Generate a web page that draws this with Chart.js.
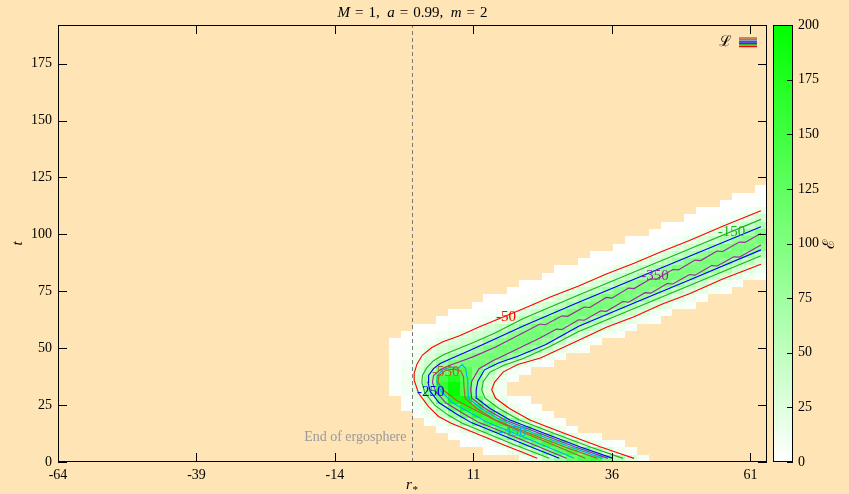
<!DOCTYPE html>
<html>
<head>
<meta charset="utf-8">
<script src="https://cdn.jsdelivr.net/npm/chart.js@4.4.1/dist/chart.umd.min.js"></script>
<style>
  html, body { margin: 0; padding: 0; background: #ffe4b5; }
</style>
</head>
<body>
<canvas id="chart" width="849" height="494"></canvas>
<script>
// axis ticks
const xTickValues = [-64, -39, -14, 11, 36, 61];
const yTickValues = [0, 25, 50, 75, 100, 125, 150, 175];
const cbTickValues = [0, 25, 50, 75, 100, 125, 150, 175, 200];

// energy density on a 60 x 60 grid (r* in [-64,64], t in [0,192]); one entry per t-row,
// rowStart = index of the first filled r*-column of that row
const rowStart = [39, 36, 34, 33, 32, 31, 30, 29, 29, 28, 28, 28, 28, 28, 28, 28, 28, 29, 30, 32,
  33, 35, 36, 38, 39, 41, 42, 44, 45, 47, 48, 50, 51, 53, 54, 56, 57, 59];
const energy = [
  [9, 22, 45, 77, 115, 138, 150, 100, 55, 26, 10],
  [2, 5, 14, 32, 60, 100, 130, 150, 112, 62, 33, 12, 4],
  [1, 3, 8, 22, 45, 88, 122, 152, 132, 78, 36, 16, 6, 2],
  [2, 5, 14, 34, 65, 108, 142, 155, 100, 52, 23, 9, 3],
  [3, 8, 22, 46, 88, 130, 158, 128, 66, 32, 13, 4],
  [4, 12, 32, 65, 110, 152, 155, 90, 45, 22, 8, 3],
  [5, 14, 38, 78, 125, 168, 150, 90, 38, 15, 5, 2],
  [3, 10, 25, 60, 120, 180, 170, 100, 42, 16, 5, 2],
  [5, 16, 45, 110, 185, 190, 120, 48, 18, 6, 2],
  [4, 10, 25, 100, 150, 200, 145, 75, 30, 11],
  [5, 12, 30, 80, 160, 195, 140, 72, 30, 11],
  [5, 12, 32, 75, 145, 175, 135, 80, 38, 14, 5],
  [4, 10, 28, 62, 108, 140, 135, 100, 55, 26, 10, 4],
  [3, 7, 20, 42, 78, 100, 112, 110, 98, 62, 38, 18, 7, 2],
  [2, 5, 13, 28, 48, 72, 88, 102, 108, 102, 78, 50, 32, 16, 6],
  [2, 4, 9, 22, 32, 43, 56, 78, 98, 110, 104, 86, 70, 40, 22, 10, 4],
  [1, 2, 4, 9, 21, 30, 38, 46, 72, 92, 106, 108, 96, 76, 44, 24, 11, 5],
  [1, 2, 4, 9, 16, 26, 35, 42, 66, 90, 104, 110, 100, 80, 46, 30, 20, 9, 4],
  [1, 1, 2, 3, 7, 17, 31, 44, 63, 86, 104, 110, 101, 79, 56, 38, 25, 13, 5],
  [1, 1, 2, 4, 11, 23, 36, 53, 74, 96, 108, 104, 88, 65, 46, 31, 20, 9, 4],
  [1, 1, 2, 3, 8, 17, 30, 43, 61, 84, 102, 108, 99, 77, 55, 37, 25, 12, 5],
  [1, 1, 2, 4, 10, 24, 37, 52, 72, 94, 107, 105, 90, 66, 45, 32, 21, 9, 4],
  [1, 1, 2, 3, 7, 16, 29, 44, 62, 85, 103, 107, 98, 78, 57, 38, 26, 13, 5],
  [1, 1, 2, 4, 11, 24, 35, 51, 73, 95, 106, 103, 88, 67, 46, 31, 20, 9, 4],
  [1, 1, 2, 3, 7, 17, 30, 42, 61, 84, 101, 106, 99, 77, 55, 38, 25, 12, 5],
  [1, 1, 2, 4, 10, 23, 36, 52, 72, 93, 105, 104, 89, 65, 45, 32, 20, 9, 4],
  [1, 1, 2, 3, 7, 17, 30, 43, 62, 84, 101, 105, 97, 76, 55, 37, 25, 13],
  [1, 1, 2, 4, 11, 24, 36, 51, 72, 94, 104, 102, 87, 65, 46, 31],
  [1, 1, 2, 3, 7, 16, 30, 43, 61, 83, 100, 104, 97, 77, 55],
  [1, 1, 2, 4, 10, 23, 35, 52, 72, 93, 104, 103, 88],
  [1, 1, 2, 3, 7, 17, 29, 42, 62, 84, 100, 104],
  [1, 1, 2, 4, 11, 24, 36, 51, 71, 93],
  [1, 1, 2, 3, 7, 17, 30, 43, 61],
  [1, 1, 2, 4, 10, 23, 35],
  [1, 1, 2, 3, 7, 16],
  [1, 1, 2, 4],
  [1, 1, 2],
  [1]
];

// contours of L, as [r*, t] points
const redOuter = [[22.5, 1.6], [19.5, 4.6], [16.5, 7.5], [13.5, 10.5], [10.5, 13.5], [7, 17], [4.7, 20], [2.9, 24.3],
  [1.1, 30.2], [0.3, 36], [0.3, 39], [0.8, 43], [1.8, 47], [3.5, 50.3], [5.5, 52.8], [8.5, 55.5], [12, 59.3],
  [20, 67.3], [25, 72.6], [30, 77.3], [35, 82.6], [40, 87.3], [45, 92.5], [50, 97.3], [56, 103.6], [62.9, 110.4]];
const greenOuter = [[24.7, 1.6], [18.5, 7.5], [12.5, 13.5], [9, 17], [6.5, 20.5], [4, 25], [2.2, 30.5], [1.7, 35],
  [1.8, 38], [2.6, 41.5], [3.8, 44.5], [5.5, 47], [8, 49.5], [11, 52.5], [15, 56.8], [20, 63], [30, 73.4],
  [40, 83.5], [50, 93.6], [62.9, 106.6]];
const blueOuter = [[26.5, 1.6], [20.5, 7.5], [14.5, 13.5], [10.7, 17.2], [8, 21], [4.8, 26], [3.2, 31], [2.8, 35],
  [2.9, 38], [3.8, 41], [5, 43.3], [7, 45.5], [10, 48.7], [14, 53], [20, 59.8], [30, 70.2], [40, 80.3],
  [50, 90.4], [62.9, 103.4]];
const purpleOuter = [[27.8, 1.6], [22, 7.5], [16, 13.5], [12, 17.3], [9, 21.5], [6, 26], [4.2, 31], [3.6, 35],
  [3.8, 38], [5, 40.5], [6.5, 42.3], [8.5, 44], [11, 46.3], [15, 50.5], [20, 56.8], [23, 60.6], [24, 60.3],
  [27, 64.2], [28, 64], [31, 68.1], [32, 67.9], [35, 72.3], [36, 72], [39, 76.4], [40, 76.2], [43, 80.5],
  [44, 80.3], [47, 84.6], [48, 84.4], [51, 88.7], [52, 88.5], [55, 92.7], [56, 92.5], [59, 96.6], [60, 96.5],
  [62.9, 100.4]];
const cyanLoop = [[29.2, 1.6], [23.5, 7.5], [17.5, 13.5], [13.5, 17.5], [10.5, 21.5], [7.2, 26], [5.2, 31],
  [4.4, 35], [4.5, 38], [5.5, 40.5], [7, 41.8], [8.2, 41.2], [9, 42.8], [9.6, 41], [9.8, 38], [10, 36],
  [10, 31.7], [10.1, 28], [12.4, 23.5], [15.9, 18.5], [22.1, 12.5], [28.5, 6.6], [34.4, 1.6]];
const brownLoop = [[31.2, 1.6], [25.5, 7.5], [20, 13], [16, 17], [12, 22], [8, 27], [5.6, 31.5], [4.6, 35],
  [4.8, 38], [6, 40.3], [7.5, 40.8], [8.7, 40], [9.2, 37.5], [9.3, 33], [9.5, 28], [11.6, 23.5], [15, 18.5],
  [21.2, 12.5], [27.5, 6.6], [33.4, 1.6]];
const redInner = [[40, 1.6], [37, 4.1], [34, 6.6], [30.7, 9.6], [27.5, 12.5], [24.3, 15.5], [21.2, 18.5],
  [17.5, 23.5], [15, 28], [14.3, 31.7], [14.8, 35], [16.4, 39.6], [19, 42.8], [23.1, 45.7], [30, 53.5],
  [35, 59.2], [40, 63.8], [45, 69.3], [50, 73.9], [56, 80.4], [62.9, 86.9]];
const greenInner = [[38, 1.6], [32.1, 6.6], [25.6, 12.5], [19.3, 18.5], [15.6, 23.5], [13.1, 28], [12.5, 31.7],
  [12.8, 35.5], [14, 39.5], [16.5, 42.5], [20, 45.5], [25, 51], [30, 57.3], [40, 67.4], [50, 77.5], [62.9, 90.6]];
const blueInner = [[36.2, 1.6], [30.3, 6.6], [23.9, 12.5], [17.6, 18.5], [14, 23.5], [11.6, 28], [11.5, 31.7],
  [11.8, 35.5], [13, 40.5], [15.5, 43.5], [19, 46.5], [24, 51.5], [30, 59.6], [40, 69.9], [50, 80], [62.9, 93.2]];
const purpleInner = [[35.3, 1.6], [29.4, 6.6], [23, 12.5], [16.7, 18.5], [13.1, 23.5], [10.7, 28], [10.5, 31.7],
  [10.7, 35.5], [12, 41], [14.5, 44.5], [18, 48.5], [23, 54.5], [26, 58.4], [27, 58.2], [30, 62.5], [31, 62.3],
  [34, 66.4], [35, 66.2], [38, 70.5], [39, 70.2], [42, 74.4], [43, 74.2], [46, 78.4], [47, 78.2], [50, 82.4],
  [51, 82.1], [54, 86.3], [55, 86.1], [58, 90.2], [59, 90], [62.9, 95.3]];
const ergosphere = [[0, 0], [0, 192]];

const levelColors = {
  red: '#ff0000', green: '#1fb01f', blue: '#0000ff',
  purple: '#9a2a9a', cyan: '#00b0f0', brown: '#b0602c'
};
const contourLabels = [
  { text: '-50', r: 16.9, t: 63.6, color: levelColors.red },
  { text: '-150', r: 57.6, t: 101.2, color: levelColors.green },
  { text: '-250', r: 3.3, t: 30.9, color: levelColors.blue },
  { text: '-350', r: 43.8, t: 81.6, color: levelColors.purple },
  { text: '-450', r: 18.1, t: 13.3, color: levelColors.cyan },
  { text: '-550', r: 6.0, t: 39.4, color: levelColors.brown }
];

const bg = '#ffe4b5';
const rMin = -64, rMax = 64, tMax = 192;
const cellR = (rMax - rMin) / 60, cellT = tMax / 60;
const serif = "'Liberation Serif', 'DejaVu Serif', serif";

function energyColor(v) {
  const f = Math.min(v, 200) / 200;
  const c = Math.round(255 * (1 - f));
  return `rgb(${c},255,${c})`;
}

function contour(points, color) {
  return {
    data: points.map(([x, y]) => ({ x, y })),
    showLine: true,
    borderColor: color,
    borderWidth: 1.1,
    pointRadius: 0,
    pointHoverRadius: 0,
    fill: false
  };
}

const bgPlugin = {
  id: 'bg',
  beforeDraw(chart) {
    const { ctx, width, height } = chart;
    ctx.save();
    ctx.fillStyle = bg;
    ctx.fillRect(0, 0, width, height);
    ctx.restore();
  }
};

const heatPlugin = {
  id: 'heat',
  beforeDatasetsDraw(chart) {
    const { ctx, chartArea, scales: { x, y } } = chart;
    ctx.save();
    ctx.beginPath();
    ctx.rect(chartArea.left, chartArea.top, chartArea.width, chartArea.height);
    ctx.clip();
    energy.forEach((row, j) => {
      row.forEach((v, k) => {
        const i = rowStart[j] + k;
        const x0 = Math.round(x.getPixelForValue(rMin + i * cellR));
        const x1 = Math.round(x.getPixelForValue(rMin + (i + 1) * cellR));
        const y0 = Math.round(y.getPixelForValue((j + 1) * cellT));
        const y1 = Math.round(y.getPixelForValue(j * cellT));
        ctx.fillStyle = energyColor(v);
        ctx.fillRect(x0, y0, x1 - x0, y1 - y0);
      });
    });
    ctx.restore();
  }
};

function drawParts(ctx, parts, cx, baseline, size) {
  let total = 0;
  parts.forEach(p => {
    ctx.font = (p[1] ? 'italic ' : '') + size + 'px ' + serif;
    total += ctx.measureText(p[0]).width;
  });
  let xPos = cx - total / 2;
  ctx.textAlign = 'left';
  ctx.textBaseline = 'alphabetic';
  parts.forEach(p => {
    ctx.font = (p[1] ? 'italic ' : '') + size + 'px ' + serif;
    ctx.fillText(p[0], xPos, baseline);
    xPos += ctx.measureText(p[0]).width;
  });
}

const framePlugin = {
  id: 'frame',
  afterDatasetsDraw(chart) {
    const { ctx, chartArea: a, scales: { x, y, cb } } = chart;
    ctx.save();

    // contour labels
    ctx.font = '15px ' + serif;
    ctx.textAlign = 'center';
    ctx.textBaseline = 'middle';
    contourLabels.forEach(l => {
      ctx.fillStyle = l.color;
      ctx.fillText(l.text, x.getPixelForValue(l.r), y.getPixelForValue(l.t));
    });

    // ergosphere label
    ctx.fillStyle = '#9a9a9a';
    ctx.font = '14px ' + serif;
    ctx.textAlign = 'right';
    ctx.fillText('End of ergosphere', x.getPixelForValue(0) - 6, y.getPixelForValue(11));

    // key
    ctx.fillStyle = '#000';
    ctx.font = '15px DejaVu Serif, serif';
    ctx.textAlign = 'right';
    ctx.fillText('\u2112', a.right - 35, a.top + 17);
    const keyColors = [levelColors.brown, levelColors.cyan, levelColors.purple, levelColors.blue, levelColors.green, levelColors.red];
    keyColors.forEach((c, k) => {
      ctx.strokeStyle = c;
      ctx.lineWidth = 1.4;
      ctx.beginPath();
      ctx.moveTo(a.right - 28, a.top + 13 + k * 1.7);
      ctx.lineTo(a.right - 10, a.top + 13 + k * 1.7);
      ctx.stroke();
    });

    // frame and inward ticks
    ctx.strokeStyle = '#000';
    ctx.lineWidth = 1;
    ctx.strokeRect(a.left + 0.5, a.top + 0.5, a.width - 1, a.height - 1);
    ctx.beginPath();
    xTickValues.forEach(v => {
      const px = Math.round(x.getPixelForValue(v)) + 0.5;
      ctx.moveTo(px, a.bottom); ctx.lineTo(px, a.bottom - 9);
      ctx.moveTo(px, a.top); ctx.lineTo(px, a.top + 9);
    });
    yTickValues.forEach(v => {
      const py = Math.round(y.getPixelForValue(v)) + 0.5;
      ctx.moveTo(a.left, py); ctx.lineTo(a.left + 9, py);
      ctx.moveTo(a.right, py); ctx.lineTo(a.right - 9, py);
    });
    ctx.stroke();

    // colour box
    const cx0 = a.right + 6, cx1 = a.right + 26;
    const cTop = cb.getPixelForValue(200), cBot = cb.getPixelForValue(0);
    const grad = ctx.createLinearGradient(0, cBot, 0, cTop);
    grad.addColorStop(0, energyColor(0));
    grad.addColorStop(1, energyColor(200));
    ctx.fillStyle = grad;
    ctx.fillRect(cx0, cTop, cx1 - cx0, cBot - cTop);
    ctx.strokeRect(cx0 + 0.5, cTop + 0.5, cx1 - cx0 - 1, cBot - cTop - 1);
    ctx.beginPath();
    cbTickValues.forEach(v => {
      const py = Math.round(cb.getPixelForValue(v)) + 0.5;
      ctx.moveTo(cx1, py); ctx.lineTo(cx1 - 6, py);
    });
    ctx.stroke();

    // title and axis names
    ctx.fillStyle = '#000';
    drawParts(ctx, [['M', true], ['\u2004=\u20041,\u2002', false], ['a', true], ['\u2004=\u20040.99,\u2002', false],
      ['m', true], ['\u2004=\u20042', false]], (a.left + a.right) / 2, 17, 15);
    ctx.font = 'italic 15px ' + serif;
    ctx.textAlign = 'left';
    ctx.fillText('r', 406, 489);
    ctx.font = '11px ' + serif;
    ctx.fillText('*', 412.5, 493);

    ctx.save();
    ctx.translate(22, (a.top + a.bottom) / 2);
    ctx.rotate(-Math.PI / 2);
    ctx.font = 'italic 15px ' + serif;
    ctx.textAlign = 'center';
    ctx.fillText('t', 0, 0);
    ctx.restore();

    ctx.save();
    ctx.translate(834, (a.top + a.bottom) / 2);
    ctx.rotate(-Math.PI / 2);
    ctx.font = '16px DejaVu Serif, serif';
    ctx.textAlign = 'center';
    ctx.fillText('\u2130', 0, 0);
    ctx.restore();

    ctx.restore();
  }
};

const tickFont = { family: serif, size: 14 };

new Chart(document.getElementById('chart'), {
  type: 'scatter',
  data: {
    datasets: [
      contour(redOuter, levelColors.red),
      contour(redInner, levelColors.red),
      contour(greenOuter, levelColors.green),
      contour(greenInner, levelColors.green),
      contour(blueOuter, levelColors.blue),
      contour(blueInner, levelColors.blue),
      contour(purpleOuter, levelColors.purple),
      contour(purpleInner, levelColors.purple),
      contour(cyanLoop, levelColors.cyan),
      contour(brownLoop, levelColors.brown),
      Object.assign(contour(ergosphere, '#7a7a7a'), { borderWidth: 1, borderDash: [4, 3] })
    ]
  },
  options: {
    responsive: false,
    animation: false,
    devicePixelRatio: 1,
    layout: { autoPadding: false, padding: { top: 25, left: 0, right: 0, bottom: 0 } },
    plugins: { legend: { display: false }, tooltip: { enabled: false }, title: { display: false } },
    scales: {
      x: {
        type: 'linear', position: 'bottom', min: rMin, max: rMax,
        grid: { display: true, drawOnChartArea: false, drawTicks: true, tickLength: 5, color: 'rgba(0,0,0,0)' },
        border: { display: false },
        afterBuildTicks: s => { s.ticks = xTickValues.map(v => ({ value: v })); },
        afterFit: s => { s.height = 32; },
        ticks: { color: '#000', font: tickFont, padding: 0, maxRotation: 0, autoSkip: false }
      },
      y: {
        type: 'linear', position: 'left', min: 0, max: tMax,
        grid: { display: true, drawOnChartArea: false, drawTicks: true, tickLength: 6, color: 'rgba(0,0,0,0)' },
        border: { display: false },
        afterBuildTicks: s => { s.ticks = yTickValues.map(v => ({ value: v })); },
        afterFit: s => { s.width = 58; },
        ticks: { color: '#000', font: tickFont, padding: 0, autoSkip: false }
      },
      cb: {
        type: 'linear', position: 'right', min: 0, max: 200,
        grid: { display: true, drawOnChartArea: false, drawTicks: true, tickLength: 31, color: 'rgba(0,0,0,0)' },
        border: { display: false },
        afterBuildTicks: s => { s.ticks = cbTickValues.map(v => ({ value: v })); },
        afterFit: s => { s.width = 82; },
        ticks: { color: '#000', font: tickFont, padding: 0, autoSkip: false }
      }
    }
  },
  plugins: [bgPlugin, heatPlugin, framePlugin]
});
</script>
</body>
</html>
